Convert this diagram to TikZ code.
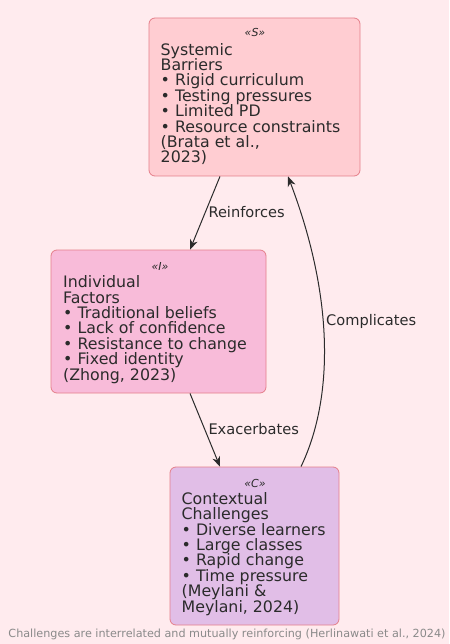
\documentclass[tikz,border=0pt]{standalone}
\usepackage{fontspec}
\setmainfont{DejaVu Sans}
\usetikzlibrary{arrows.meta}
\definecolor{bgpink}{HTML}{FFEBEE}
\definecolor{sysfill}{HTML}{FFCDD2}
\definecolor{indfill}{HTML}{F8BBD9}
\definecolor{ctxfill}{HTML}{E1BEE7}
\definecolor{boxline}{HTML}{E57F8A}
\definecolor{ink}{HTML}{2B2B2B}
\definecolor{notegray}{HTML}{8A8A8A}
\begin{document}
\begin{tikzpicture}[>={Stealth[length=10pt,width=8pt,inset=3pt]}, x=1pt, y=-1pt,
  box/.style={draw=boxline, line width=0.8pt, rounded corners=6pt, inner sep=0pt},
  txt/.style={align=left, anchor=base west, inner sep=0pt, text=ink,
    font=\fontsize{15.8}{15.4}\selectfont},
  stereo/.style={anchor=base, inner sep=0pt, text=ink, font=\itshape\fontsize{11}{12}\selectfont},
  lbl/.style={anchor=base west, inner sep=0pt, text=ink, font=\fontsize{14.6}{16}\selectfont}]
\fill[bgpink] (0,0) rectangle (449,644);
\useasboundingbox (0,0) rectangle (449,644);

% boxes
\node[box, fill=sysfill, minimum width=211pt, minimum height=158pt] (sbox) at (254.5,97) {};
\node[box, fill=indfill, minimum width=215pt, minimum height=143pt] (ibox) at (158.5,321.5) {};
\node[box, fill=ctxfill, minimum width=169pt, minimum height=158pt] (cbox) at (254.5,546) {};

% texts, placed by the baseline of their last line
\node[stereo] (sstereo) at (255,37) {«S»};
\node[txt] (stext) at (160.5,163) {Systemic\\Barriers\\• Rigid curriculum\\• Testing pressures\\• Limited PD\\• Resource constraints\\(Brata et al.,\\2023)};

\node[stereo] (istereo) at (160,270) {«I»};
\node[txt] (itext) at (63,380) {Individual\\Factors\\• Traditional beliefs\\• Lack of confidence\\• Resistance to change\\• Fixed identity\\(Zhong, 2023)};

\node[stereo] (cstereo) at (255,487) {«C»};
\node[txt] (ctext) at (181.5,612) {Contextual\\Challenges\\• Diverse learners\\• Large classes\\• Rapid change\\• Time pressure\\(Meylani \&\\Meylani, 2024)};

% links
\draw[->, ink, line width=1pt] ([xshift=-34.5pt]sbox.south) -- ([xshift=31.5pt]ibox.north)
  node[lbl, pos=0.5, xshift=3pt, yshift=-4pt] (reinf) {Reinforces};
\draw[->, ink, line width=1pt] ([xshift=31.5pt]ibox.south) -- ([xshift=-34.5pt]cbox.north)
  node[lbl, pos=0.5, xshift=3pt, yshift=-4pt] (exac) {Exacerbates};
\draw[->, ink, line width=1pt] ([xshift=46.5pt]cbox.north) .. controls (333,400) and (335,300) .. ([xshift=33.5pt]sbox.south);
\node[lbl] (compl) at (326,325) {Complicates};

\node[anchor=base, inner sep=0pt, text=notegray, font=\fontsize{11.2}{12}\selectfont] (note) at (227,637)
  {Challenges are interrelated and mutually reinforcing (Herlinawati et al., 2024)};
\end{tikzpicture}
\end{document}
